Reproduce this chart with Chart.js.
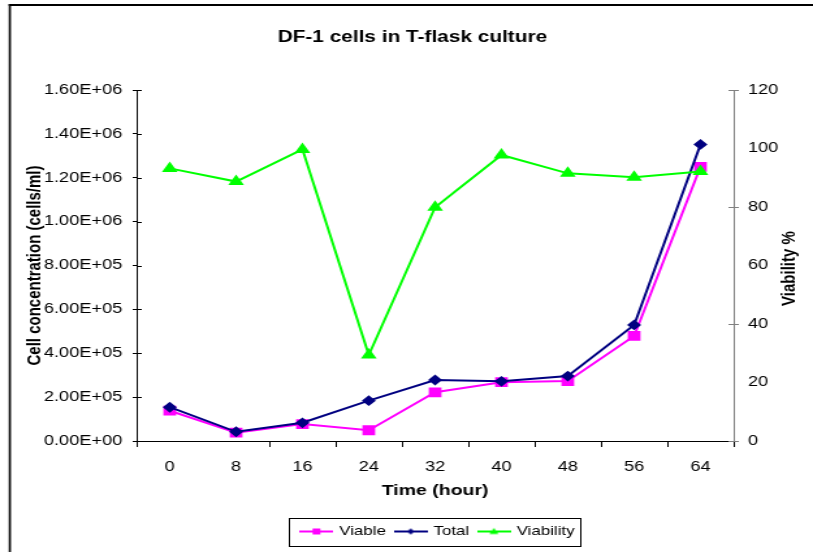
<!DOCTYPE html>
<html>
<head>
<meta charset="utf-8">
<script src="https://cdn.jsdelivr.net/npm/chart.js@4.4.1/dist/chart.umd.min.js"></script>
<style>
  html, body { margin: 0; padding: 0; background: #fff; overflow: hidden; }
  /* the original picture is stretched sideways, so the canvas is too */
  #wrap { width: 625px; height: 552px; transform: scaleX(1.3008); transform-origin: 0 0; }
</style>
</head>
<body>
<div id="wrap"><canvas id="myChart" width="625" height="552"></canvas></div>
<script>
// DATA
const hours = ['0', '8', '16', '24', '32', '40', '48', '56', '64'];
const viable = [138000, 38000, 77000, 49000, 222000, 268000, 273000, 479000, 1250000];
const total = [154000, 42000, 83000, 184000, 278000, 272000, 296000, 529000, 1352000];
const viability = [93.2, 88.7, 99.7, 29.4, 79.9, 97.8, 91.5, 90.2, 92.1];
const cellTicks = [0, 200000, 400000, 600000, 800000, 1000000, 1200000, 1400000, 1600000];
const viabTicks = [0, 20, 40, 60, 80, 100, 120];

const FONT = "'Liberation Sans', Arial, sans-serif";

function sci(v) {
    const parts = v.toExponential(2).split('e');
    const sign = parts[1][0];
    return parts[0] + 'E' + sign + parts[1].slice(1).padStart(2, '0');
}

// little line + marker pictures for the legend
function legendImage(color, shape) {
    const c = document.createElement('canvas');
    c.width = 26; c.height = 12;
    const g = c.getContext('2d');
    g.strokeStyle = color; g.fillStyle = color; g.lineWidth = 2;
    g.beginPath(); g.moveTo(0, 6); g.lineTo(26, 6); g.stroke();
    g.beginPath();
    if (shape === 'rect') {
        g.rect(10, 3, 6, 6);
    } else if (shape === 'diamond') {
        g.moveTo(13, 3); g.lineTo(16, 6); g.lineTo(13, 9); g.lineTo(10, 6);
    } else {
        g.moveTo(13, 2.5); g.lineTo(16.5, 8.5); g.lineTo(9.5, 8.5);
    }
    g.closePath(); g.fill();
    return c;
}
const legendImgs = [legendImage('#FF00FF', 'rect'), legendImage('#000080', 'diamond'), legendImage('#00FF00', 'tri')];

const frame = {
    id: 'frame',
    beforeDraw(chart) {
        const ctx = chart.ctx;
        ctx.save();
        ctx.fillStyle = '#000';
        ctx.fillRect(6.7, 4, 620, 2);
        ctx.fillRect(6.7, 4, 1.7, 548);
        ctx.restore();
    }
};

const legendShift = {
    id: 'legendShift',
    afterLayout(chart) {
        chart.legend.left += 40;
    }
};

const extras = {
    id: 'extras',
    afterDraw(chart) {
        const ctx = chart.ctx;
        const area = chart.chartArea;
        const y = chart.scales.y, y1 = chart.scales.y1;
        ctx.save();
        ctx.lineWidth = 1;
        // ticks crossing into the plot
        ctx.strokeStyle = '#000';
        y.ticks.forEach(t => {
            const p = Math.round(y.getPixelForValue(t.value)) + 0.5;
            ctx.beginPath(); ctx.moveTo(area.left, p); ctx.lineTo(area.left + 4, p); ctx.stroke();
        });
        ctx.strokeStyle = '#808080';
        y1.ticks.forEach(t => {
            if (t.value % 40 !== 0) return;
            const p = Math.round(y1.getPixelForValue(t.value)) + 0.5;
            ctx.beginPath(); ctx.moveTo(area.right - 4, p); ctx.lineTo(area.right, p); ctx.stroke();
        });
        // right axis title reads bottom to top, like the left one
        ctx.fillStyle = '#000';
        ctx.font = 'bold 15px ' + FONT;
        ctx.textAlign = 'center';
        ctx.textBaseline = 'middle';
        ctx.translate(y1.right - 13, (area.top + area.bottom) / 2 + 3);
        ctx.rotate(-Math.PI / 2);
        ctx.fillText('Viability %', 0, 0);
        ctx.setTransform(1, 0, 0, 1, 0, 0);
        // legend border
        const hb = chart.legend.legendHitBoxes;
        if (hb && hb.length) {
            const l = hb[0].left - 10.5;
            const last = hb[hb.length - 1];
            const r = last.left + last.width + 4;
            const t = hb[0].top - 7;
            const b = hb[0].top + hb[0].height + 8;
            ctx.strokeStyle = '#000';
            ctx.lineWidth = 1;
            ctx.strokeRect(Math.round(l) + 0.5, Math.round(t) + 0.5, Math.round(r - l), Math.round(b - t));
        }
        ctx.restore();
    }
};

const chart = document.querySelector('#myChart').getContext('2d');
const myChart = new Chart(chart, {
    type: 'line',
    data: {
        labels: hours,
        datasets: [{
            label: 'Viable',
            data: viable,
            yAxisID: 'y',
            borderColor: '#FF00FF',
            backgroundColor: '#FF00FF',
            borderWidth: 2,
            pointStyle: 'rect',
            pointRadius: 5.5,
            order: 3
        }, {
            label: 'Total',
            data: total,
            yAxisID: 'y',
            borderColor: '#000080',
            backgroundColor: '#000080',
            borderWidth: 2,
            pointStyle: 'rectRot',
            pointRadius: 4,
            order: 2
        }, {
            label: 'Viability',
            data: viability,
            yAxisID: 'y1',
            borderColor: '#00FF00',
            backgroundColor: '#00FF00',
            borderWidth: 2,
            pointStyle: 'triangle',
            pointRadius: 5,
            order: 1
        }]
    },
    options: {
        responsive: false,
        animation: false,
        devicePixelRatio: 1,
        layout: { padding: { left: 14, right: 5, top: 0, bottom: 4 } },
        plugins: {
            tooltip: { enabled: false },
            title: {
                display: true,
                text: 'DF-1 cells in T-flask culture',
                color: '#000',
                font: { family: FONT, size: 16, weight: 'bold' },
                padding: { top: 28.4, bottom: 42.4 }
            },
            legend: {
                position: 'bottom',
                labels: {
                    color: '#000',
                    font: { family: FONT, size: 13 },
                    usePointStyle: true,
                    pointStyleWidth: 22,
                    padding: 8,
                    generateLabels: (c) => c.data.datasets.map((ds, i) => ({
                        text: ds.label,
                        pointStyle: legendImgs[i],
                        fillStyle: ds.borderColor,
                        strokeStyle: ds.borderColor,
                        lineWidth: 0,
                        hidden: false,
                        fontColor: '#000',
                        datasetIndex: i
                    }))
                }
            }
        },
        scales: {
            x: {
                offset: true,
                grid: {
                    offset: true,
                    drawOnChartArea: false,
                    tickLength: 6,
                    color: (ctx) => ctx.index === 1 ? 'rgba(0,0,0,0)' : '#000'
                },
                border: { color: '#000', width: 1 },
                ticks: { color: '#000', font: { family: FONT, size: 14 }, padding: 12, maxRotation: 0 },
                title: {
                    display: true,
                    text: 'Time (hour)',
                    color: '#000',
                    font: { family: FONT, size: 15, weight: 'bold' },
                    padding: { top: 0, bottom: 17 }
                },
                afterFit: (s) => { s.height = 76; }
            },
            y: {
                position: 'left',
                min: 0,
                max: 1600000,
                afterBuildTicks: (s) => { s.ticks = cellTicks.map(v => ({ value: v })); },
                grid: { drawOnChartArea: false, tickLength: 3, color: '#000' },
                border: { color: '#000', width: 1 },
                ticks: { color: '#000', font: { family: FONT, size: 14 }, padding: 8, callback: (v) => sci(v) },
                title: {
                    display: true,
                    text: 'Cell concentration (cells/ml)',
                    color: '#000',
                    font: { family: FONT, size: 15, weight: 'bold' },
                    padding: { top: 4, bottom: 0 }
                },
                afterFit: (s) => { s.width = 91; }
            },
            y1: {
                position: 'right',
                min: 0,
                max: 120,
                afterBuildTicks: (s) => { s.ticks = viabTicks.map(v => ({ value: v })); },
                grid: {
                    drawOnChartArea: false,
                    tickLength: 4,
                    color: (ctx) => (ctx.tick && ctx.tick.value % 40 === 0) ? '#808080' : 'rgba(0,0,0,0)'
                },
                border: { color: '#808080', width: 1 },
                ticks: { color: '#000', font: { family: FONT, size: 14 }, padding: 7 },
                afterFit: (s) => { s.width = 56; }
            }
        }
    },
    plugins: [frame, legendShift, extras]
});
</script>
</body>
</html>
